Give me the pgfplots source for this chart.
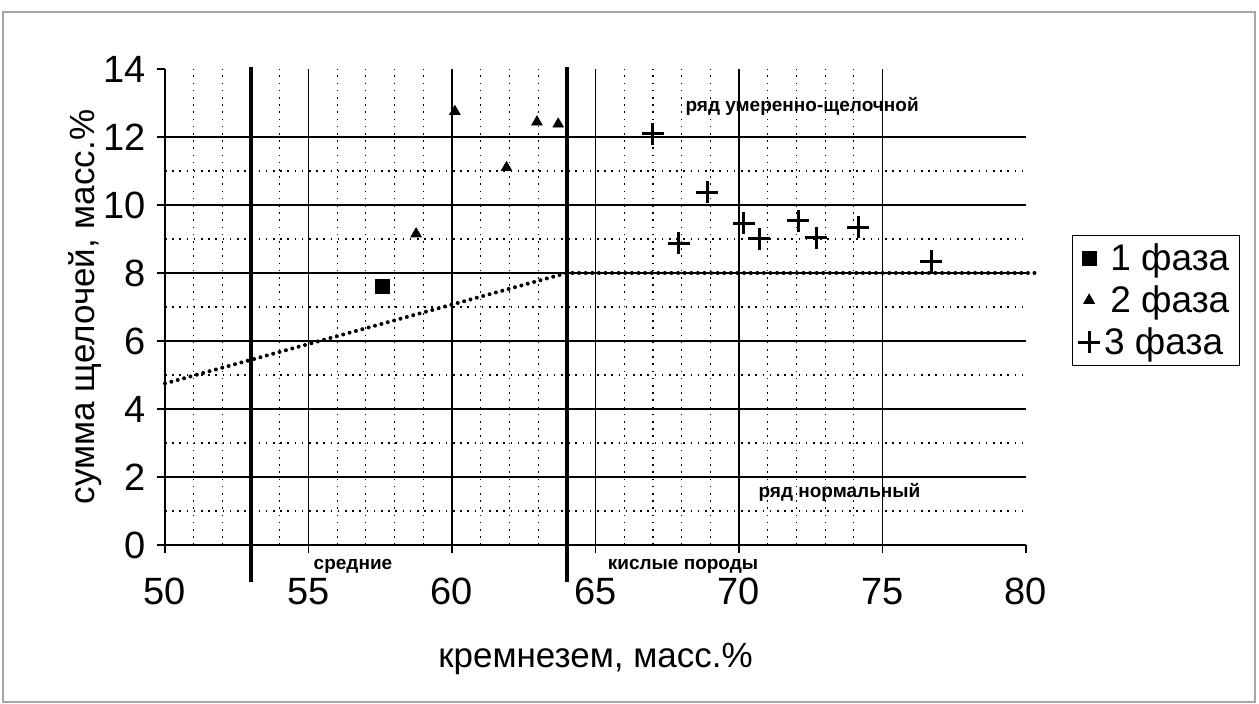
\documentclass[border=0pt]{standalone}
\usepackage{fontspec}
\setmainfont{Liberation Sans}
\usepackage{pgfplots}
\pgfplotsset{compat=1.18}

\begin{document}
\begin{tikzpicture}
% page = 1259x704 px at 0.5pt per px, axis corner at px (165,545)
\useasboundingbox (-82.5pt,-79.5pt) rectangle (547pt,272.5pt);
\draw[gray!70, line width=0.6pt] (-81pt,-78.5pt) rectangle (545pt,266.5pt);
\begin{axis}[
    scale only axis,
    width=430.5pt, height=238pt,
    xmin=50, xmax=80, ymin=0, ymax=14,
    axis x line*=bottom, axis y line*=left,
    axis line style={black, line width=0.7pt},
    xtick={50,55,...,75}, ytick={0,2,...,12},
    extra x ticks={80}, extra y ticks={14},
    extra tick style={grid=none},
    minor x tick num=4, minor y tick num=1,
    tick align=outside,
    major tick length=4pt, minor tick length=0pt,
    tick style={black, line width=0.6pt},
    grid=both,
    major grid style={black, line width=0.6pt},
    minor grid style={black, line width=0.6pt, dash pattern=on 0.8pt off 2.8pt},
    /pgf/number format/assume math mode=true,
    ticklabel style={font=\fontsize{19}{22}\selectfont},
    xticklabel style={yshift=-9pt},
    yticklabel style={xshift=-2pt},
    xlabel={кремнезем, масс.\%},
    ylabel={сумма щелочей, масс.\%},
    label style={font=\fontsize{17.5}{21}\selectfont},
    xlabel style={at={(axis description cs:0.5,-0.24)}, anchor=center},
    ylabel style={at={(axis description cs:-0.093,0.5)}, anchor=center},
    clip=false,
    legend style={at={(1.053,0.651)}, anchor=north west, draw=black,
        line width=0.5pt, font=\fontsize{18.5}{21}\selectfont,
        inner xsep=3pt, inner ysep=2pt, row sep=2pt},
    legend cell align=left,
]

\addplot[only marks, mark=square*, mark size=3.5pt, black] coordinates {(57.56,7.62)};
\addlegendentry{\,1 фаза}

\addplot[only marks, mark=triangle*, mark size=3pt, black] coordinates {
    (58.75,9.15) (60.1,12.75) (61.9,11.1) (62.96,12.44) (63.7,12.38)};
\addlegendentry{\,2 фаза}

\addplot[only marks, mark=+, mark size=5.5pt, black, line width=1.5pt] coordinates {
    (67.0,12.1) (68.9,10.38) (67.9,8.88) (70.17,9.47) (70.7,9.0)
    (72.06,9.53) (72.7,9.03) (74.15,9.35) (76.7,8.35)};
\addlegendentry{3 фаза}

% boundary lines
\addplot[black, line width=2pt, forget plot] coordinates {(53,-1.1) (53,14.05)};
\addplot[black, line width=2pt, forget plot] coordinates {(64,-1.1) (64,14.05)};
\addplot[black, line width=2pt, line cap=round, dash pattern=on 0pt off 3.3pt, forget plot]
    coordinates {(50,4.75) (64,8) (80.3,8)};

\node[font=\fontsize{9.5}{11}\selectfont\bfseries] at (axis cs:72.2,12.9) {ряд умеренно-щелочной};
\node[font=\fontsize{9.5}{11}\selectfont\bfseries] at (axis cs:73.5,1.56) {ряд нормальный};
\node[font=\fontsize{9.5}{11}\selectfont\bfseries] at (axis cs:56.55,-0.62) {средние};
\node[font=\fontsize{9.5}{11}\selectfont\bfseries] at (axis cs:68.05,-0.62) {кислые породы};
\end{axis}
\end{tikzpicture}
\end{document}
